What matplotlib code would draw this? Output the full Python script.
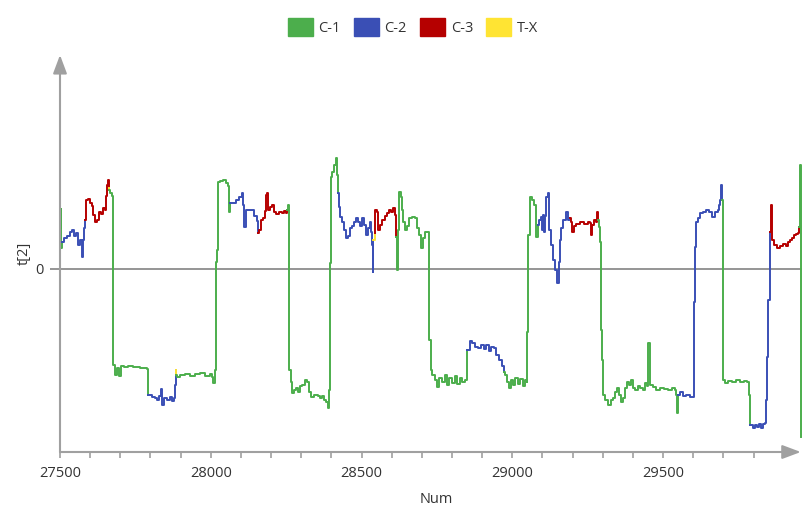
import matplotlib
matplotlib.use("Agg")
import matplotlib.pyplot as plt
from matplotlib.patches import Patch

plt.rcParams['font.family'] = ['Open Sans', 'DejaVu Sans']

# class of each run of the series, with its Num / t[2] points
run_cls = ["C-1", "C-2", "C-3", "T-X", "C-1", "C-2", "T-X", "C-1", "C-2", "C-3",
           "C-1", "C-2", "T-X", "C-3", "C-1", "C-2", "C-1", "C-2", "C-3", "C-1",
           "C-2", "C-1", "C-2", "C-3", "C-1"]

run_num = [
    [27501, 27502, 27504, 27506],
    [27512, 27522, 27532, 27539, 27545, 27552, 27559, 27565, 27572, 27575, 27579, 27582],
    [27585, 27592, 27599, 27605, 27608, 27615, 27622, 27628, 27635, 27642, 27648, 27652, 27655, 27658, 27662],
    [27663],
    [27665, 27672, 27675, 27677, 27681, 27688, 27695, 27701, 27711, 27725, 27741, 27764, 27788, 27791, 27793],
    [27794, 27804, 27814, 27821, 27827, 27834, 27837, 27844, 27854, 27864, 27871, 27877, 27881, 27884],
    [27886],
    [27887, 27897, 27914, 27930, 27947, 27964, 27980, 27997, 28003, 28007, 28013, 28017, 28020, 28023,
     28030, 28040, 28050, 28056, 28060, 28063],
    [28073, 28083, 28093, 28103, 28106, 28110, 28116, 28129, 28143, 28153, 28156],
    [28159, 28166, 28173, 28179, 28183, 28186, 28189, 28196, 28202, 28209, 28216, 28226, 28236, 28242,
     28249, 28252],
    [28256, 28259, 28266, 28269, 28276, 28282, 28289, 28295, 28302, 28312, 28319, 28325, 28332, 28342,
     28355, 28362, 28368, 28375, 28382, 28388, 28392, 28395, 28398, 28402, 28408, 28415, 28418, 28422],
    [28425, 28428, 28435, 28441, 28448, 28455, 28461, 28468, 28474, 28481, 28488, 28494, 28501, 28508,
     28514, 28521, 28527, 28531, 28534, 28538, 28539],
    [28541, 28544],
    [28546, 28551, 28554, 28561, 28567, 28577, 28584, 28591, 28597, 28604, 28611, 28614],
    [28617, 28619, 28620, 28624, 28630, 28634, 28637, 28644, 28650, 28657, 28667, 28677, 28684, 28690,
     28697, 28703, 28710, 28723, 28725, 28730, 28733, 28743, 28750, 28756, 28766, 28776, 28783, 28790,
     28800, 28810, 28816, 28826, 28833, 28843, 28849, 28851],
    [28853, 28859, 28866, 28876, 28886, 28896, 28906, 28912, 28922, 28929, 28939, 28946, 28956, 28966, 28972],
    [28976, 28982, 28989, 28995, 29002, 29009, 29019, 29025, 29035, 29042, 29048, 29050, 29052, 29053,
     29057, 29065, 29072, 29078, 29085],
    [29088, 29095, 29098, 29101, 29105, 29108, 29111, 29118, 29121, 29128, 29135, 29141, 29148, 29155,
     29158, 29161, 29168, 29178, 29184, 29191],
    [29194, 29198, 29204, 29211, 29224, 29238, 29251, 29258, 29261, 29264, 29271, 29278, 29281, 29284],
    [29288, 29291, 29294, 29298, 29301, 29308, 29318, 29328, 29334, 29341, 29347, 29354, 29361, 29367,
     29374, 29380, 29387, 29394, 29400, 29407, 29417, 29423, 29433, 29440, 29446, 29450, 29453, 29456,
     29466, 29476, 29490, 29503, 29516, 29530, 29539, 29543, 29546, 29549],
    [29556, 29566, 29576, 29589, 29599, 29602, 29606, 29609, 29616, 29622, 29632, 29642, 29652, 29662,
     29673, 29683, 29686, 29689, 29693, 29696],
    [29697, 29699, 29705, 29715, 29729, 29742, 29755, 29769, 29779, 29785, 29788],
    [29792, 29798, 29805, 29811, 29818, 29825, 29831, 29838, 29841, 29845, 29848, 29855],
    [29858, 29861, 29868, 29878, 29888, 29898, 29908, 29915, 29921, 29928, 29934, 29941, 29948, 29951],
    [29954, 29956, 29958],
]

run_t2 = [
    [1.03, 1.50, 0.53, 0.68],
    [0.78, 0.83, 0.93, 0.98, 0.83, 0.90, 0.60, 0.73, 0.30, 0.73, 1.03, 1.23],
    [1.73, 1.75, 1.65, 1.58, 1.35, 1.18, 1.23, 1.43, 1.38, 1.53, 1.48, 1.83, 2.10, 2.23, 2.03],
    [1.98],
    [1.90, 1.83, 1.35, -2.40, -2.65, -2.48, -2.68, -2.43, -2.45, -2.43, -2.45, -2.48, -2.50, -2.58, -3.15],
    [-3.15, -3.20, -3.23, -3.28, -3.18, -3.00, -3.40, -3.23, -3.28, -3.20, -3.30, -3.23, -2.90, -2.53],
    [-2.65],
    [-2.70, -2.65, -2.63, -2.68, -2.63, -2.60, -2.68, -2.63, -2.70, -2.85, -2.53, 0.18, 0.48, 2.18,
     2.20, 2.23, 2.15, 2.08, 1.43, 1.65],
    [1.65, 1.73, 1.80, 1.90, 1.60, 1.05, 1.48, 1.48, 1.33, 1.20, 0.90],
    [0.98, 1.23, 1.28, 1.45, 1.85, 1.90, 1.48, 1.55, 1.60, 1.43, 1.38, 1.43, 1.40, 1.45, 1.40, 1.48],
    [1.60, -2.53, -2.83, -3.10, -3.03, -2.98, -3.08, -2.93, -2.90, -2.78, -2.83, -3.08, -3.20, -3.15,
     -3.18, -3.23, -3.18, -3.28, -3.33, -3.48, -3.03, 0.15, 2.30, 2.43, 2.60, 2.78, 2.35, 1.90],
    [1.55, 1.30, 1.18, 0.98, 0.78, 0.83, 1.03, 1.08, 1.18, 1.28, 1.18, 1.08, 1.28, 1.10,
     0.85, 1.03, 1.18, 0.93, 0.60, -0.08, 0.73],
    [0.73, 0.90],
    [1.48, 1.43, 0.98, 1.10, 1.23, 1.33, 1.40, 1.48, 1.43, 1.53, 1.35, 0.80],
    [0.80, -0.03, 0.98, 1.93, 1.80, 1.48, 1.18, 0.98, 1.08, 1.28, 1.30, 1.28, 1.03, 0.85,
     0.53, 0.78, 0.93, 0.90, -1.78, -2.53, -2.65, -2.78, -2.95, -2.73, -2.83, -2.65, -2.90, -2.73,
     -2.85, -2.68, -2.88, -2.73, -2.83, -2.78, -2.73, -2.03],
    [-2.03, -1.80, -1.85, -1.95, -1.98, -1.90, -2.00, -1.90, -2.05, -1.95, -1.98, -2.15, -2.28, -2.43, -2.58],
    [-2.65, -2.83, -2.98, -2.78, -2.90, -2.73, -2.88, -2.75, -2.93, -2.78, -2.83, -1.58, -0.78, 0.85,
     1.80, 1.73, 1.60, 0.80, 1.10],
    [1.23, 1.30, 0.98, 1.35, 0.93, 1.33, 1.80, 1.90, 0.98, 0.60, 0.23, -0.03, -0.35, 0.18,
     0.73, 1.03, 1.23, 1.43, 1.23, 1.28],
    [1.18, 0.93, 1.08, 1.13, 1.18, 1.13, 1.18, 1.15, 0.85, 1.10, 1.23, 1.18, 1.43, 1.23],
    [1.05, 0.68, -1.53, -2.28, -3.15, -3.28, -3.40, -3.28, -3.23, -3.08, -2.98, -3.15, -3.33, -3.23,
     -2.98, -2.83, -2.90, -2.78, -2.98, -3.03, -2.93, -2.98, -3.03, -2.85, -2.93, -1.85, -1.85, -2.90,
     -2.95, -3.03, -2.98, -3.00, -3.03, -2.98, -3.03, -3.15, -3.60, -3.15],
    [-3.08, -3.18, -3.15, -3.20, -3.20, -0.83, 0.55, 1.18, 1.28, 1.40, 1.43, 1.48, 1.43, 1.30,
     1.43, 1.48, 1.60, 1.73, 2.10, 1.73],
    [1.73, -2.78, -2.85, -2.80, -2.83, -2.78, -2.83, -2.80, -2.83, -3.15, -3.90],
    [-3.90, -3.98, -3.90, -3.95, -3.88, -3.98, -3.88, -3.85, -3.28, -2.20, -0.78, 0.93],
    [1.60, 0.73, 0.60, 0.53, 0.58, 0.63, 0.58, 0.68, 0.73, 0.78, 0.85, 0.88, 0.90, 1.05],
    [2.60, -0.78, -4.20],
]

labels = ["C-1", "C-2", "C-3", "T-X"]
colors = {"C-1": "#4cae4c", "C-2": "#3a4fb5", "C-3": "#b50000", "T-X": "#ffe433"}
axis_col = "#a0a0a0"
text_col = "#333333"

fig = plt.figure(figsize=(8.03, 5.07), dpi=100)
ax = fig.add_axes([60 / 803, 1 - 452 / 507, 743 / 803, 397 / 507])

ax.axhline(0, color="#8c8c8c", lw=1.3, zorder=1)

prev = None
for c, xs, ys in zip(run_cls, run_num, run_t2):
    xs, ys = list(xs), list(ys)
    if prev is not None:
        xs = [prev[0]] + xs
        ys = [prev[1]] + ys
    ax.plot(xs, ys, color=colors[c], lw=1.4, drawstyle="steps-post", zorder=2)
    prev = (xs[-1], ys[-1])

ax.set_xlim(27500, 29964)
ax.set_ylim(-4.575, 5.35)

for s in ax.spines.values():
    s.set_visible(False)
arrow = dict(arrowstyle="-|>,head_length=0.8,head_width=0.3", color=axis_col, lw=1.5,
             shrinkA=0, shrinkB=0, mutation_scale=14)
ax.annotate("", xy=(0.997, 0), xytext=(0, 0), xycoords="axes fraction", arrowprops=arrow,
            annotation_clip=False)
ax.annotate("", xy=(0, 1.0), xytext=(0, 0), xycoords="axes fraction", arrowprops=arrow,
            annotation_clip=False)

ax.set_xticks([27500, 28000, 28500, 29000, 29500])
ax.set_xticks(list(range(27600, 29964, 100)), minor=True)
ax.tick_params(axis="x", which="both", direction="out", length=4, width=1.2, color=axis_col,
               labelsize=10.5, labelcolor=text_col, pad=6)
ax.set_yticks([0])
ax.tick_params(axis="y", length=7, width=1.3, color="#8c8c8c", labelsize=10.5,
               labelcolor=text_col, pad=5)

ax.set_xlabel("Num", fontsize=10.5, color=text_col)
ax.xaxis.set_label_coords(0.506, -0.10)
ax.set_ylabel("t[2]", fontsize=10.5, color=text_col)
ax.yaxis.set_label_coords(-0.038, 0.5)

handles = [Patch(facecolor=colors[c], edgecolor=colors[c]) for c in labels]
fig.legend(handles, labels, loc="center", bbox_to_anchor=(413 / 803, 1 - 27 / 507), ncol=4,
           frameon=False, handlelength=1.7, handleheight=1.6, handletextpad=0.4,
           columnspacing=0.9, fontsize=10.5, labelcolor=text_col)

fig.savefig("out.png", dpi=100, facecolor="white")
